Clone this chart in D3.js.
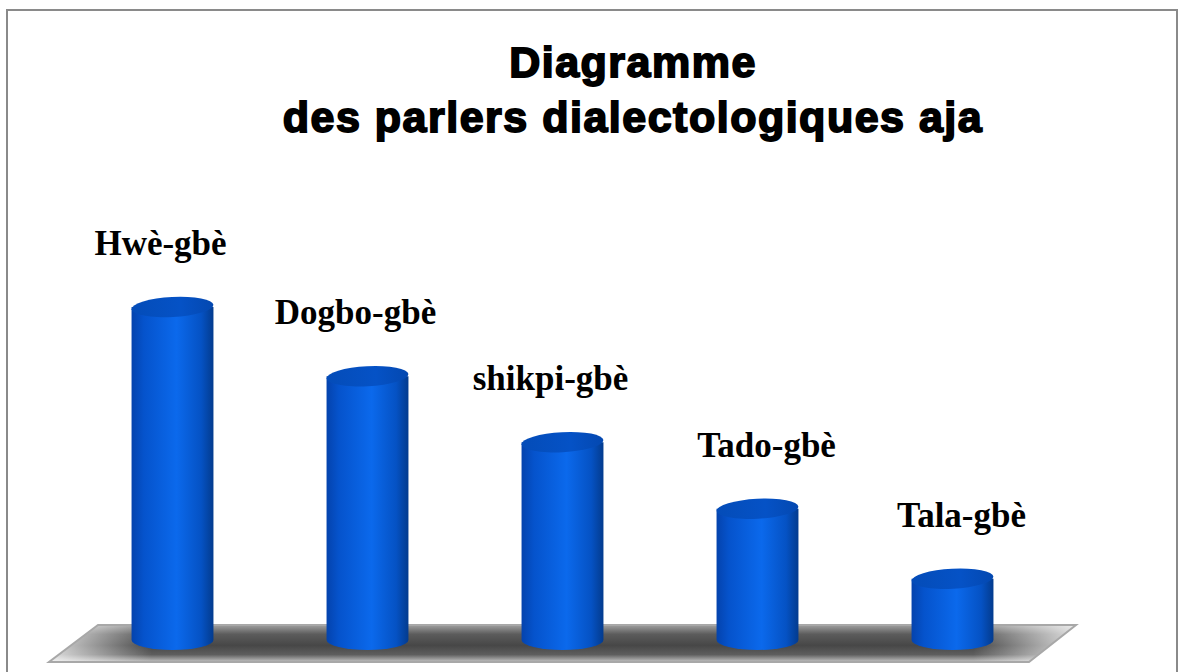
<!DOCTYPE html>
<html>
<head>
<meta charset="utf-8">
<script src="https://cdn.jsdelivr.net/npm/d3@7"></script>
<style>
  body { margin: 0; background: #fff; }
  svg { display: block; }
</style>
</head>
<body>
<script>
// data
const dialects = ["Hwè-gbè", "Dogbo-gbè", "shikpi-gbè", "Tado-gbè", "Tala-gbè"];
const weights  = [5, 3.96, 2.97, 1.97, 0.92];
const titleLines = ["Diagramme", "des parlers dialectologiques aja"];

const width = 1178,
      height = 672,
      baseY = 640,      // centre of the bottom ellipses
      ry = 10;

const svg = d3.select("body").append("svg")
  .attr("width", width)
  .attr("height", height);

const defs = svg.append("defs");

// body gradient: dark edges, bright middle
const bodyGrad = defs.append("linearGradient").attr("id", "cylBody");
[[0, "#0443ad"], [0.15, "#0553cc"], [0.55, "#0b69ec"], [0.85, "#0552c4"], [1, "#033b8e"]]
  .forEach(([o, c]) => bodyGrad.append("stop").attr("offset", o).attr("stop-color", c));

const topGrad = defs.append("linearGradient").attr("id", "cylTop");
[[0, "#044cb8"], [0.6, "#0552c6"], [1, "#0448b0"]]
  .forEach(([o, c]) => topGrad.append("stop").attr("offset", o).attr("stop-color", c));

// floor gradient
const floorGrad = defs.append("linearGradient").attr("id", "floorV")
  .attr("x1", 0).attr("x2", 0).attr("y1", 0).attr("y2", 1);
[[0, "#a0a0a0"], [0.25, "#5c5c5c"], [0.55, "#474747"], [0.8, "#5e5e5e"], [1, "#c4c4c4"]]
  .forEach(([o, c]) => floorGrad.append("stop").attr("offset", o).attr("stop-color", c));
const floorH = defs.append("linearGradient").attr("id", "floorH");
[[0, "#ffffff", 0.8], [0.1, "#ffffff", 0], [0.9, "#ffffff", 0], [1, "#ffffff", 0.8]]
  .forEach(([o, c, a]) => floorH.append("stop").attr("offset", o).attr("stop-color", c).attr("stop-opacity", a));

// frame
svg.append("rect")
  .attr("x", 7).attr("y", 10)
  .attr("width", width - 8).attr("height", height)
  .attr("fill", "none")
  .attr("stroke", "#8a8a8a")
  .attr("stroke-width", 2);

// scales
const x = d3.scaleBand()
  .domain(dialects)
  .range([75, 1050])
  .padding(0);

const y = d3.scaleLinear()
  .domain([0, 5])
  .range([baseY, 307]);

const rx = x.bandwidth() * 0.21;

// floor
const floorPts = [[98, 625], [1076, 625], [1029, 662], [49, 662]];
const floorPath = "M" + floorPts.map(p => p.join(",")).join("L") + "Z";
svg.append("path").attr("d", floorPath).attr("fill", "url(#floorV)");
svg.append("path").attr("d", floorPath).attr("fill", "url(#floorH)");
svg.append("path").attr("d", floorPath)
  .attr("fill", "none").attr("stroke", "#a8a8a8").attr("stroke-width", 2);

// cylinders
const cyl = svg.append("g").selectAll("g")
  .data(dialects.map((d, i) => ({ name: d, value: weights[i], i })))
  .join("g")
  .attr("transform", d => `translate(${x(d.name) + x.bandwidth() / 2},0)`);

cyl.append("path")
  .attr("fill", "url(#cylBody)")
  .attr("d", d => {
    const top = y(d.value);
    return `M${-rx},${top} L${-rx},${baseY} A${rx},${ry} 0 0 0 ${rx},${baseY} L${rx},${top} Z`;
  });

cyl.append("ellipse")
  .attr("cx", 0)
  .attr("cy", d => y(d.value))
  .attr("rx", rx)
  .attr("ry", ry)
  .attr("transform", d => `rotate(-3,0,${y(d.value)})`)
  .attr("fill", "url(#cylTop)");

// labels sit a little left of the first three bars, right of the last two
cyl.append("text")
  .attr("x", d => d.i < 3 ? -12 : 9)
  .attr("y", d => y(d.value) - 52)
  .attr("text-anchor", "middle")
  .attr("font-family", "'Liberation Serif', 'Times New Roman', serif")
  .attr("font-weight", "bold")
  .attr("font-size", 35)
  .text(d => d.name);

// title
svg.append("g").selectAll("text")
  .data(titleLines)
  .join("text")
  .attr("x", 633)
  .attr("y", (d, i) => 77 + i * 55)
  .attr("text-anchor", "middle")
  .attr("font-family", "'Liberation Sans', Arial, sans-serif")
  .attr("font-weight", "bold")
  .attr("font-size", 43)
  .attr("letter-spacing", 1.5)
  .attr("stroke", "#000")
  .attr("stroke-width", 1.8)
  .text(d => d);
</script>
</body>
</html>
